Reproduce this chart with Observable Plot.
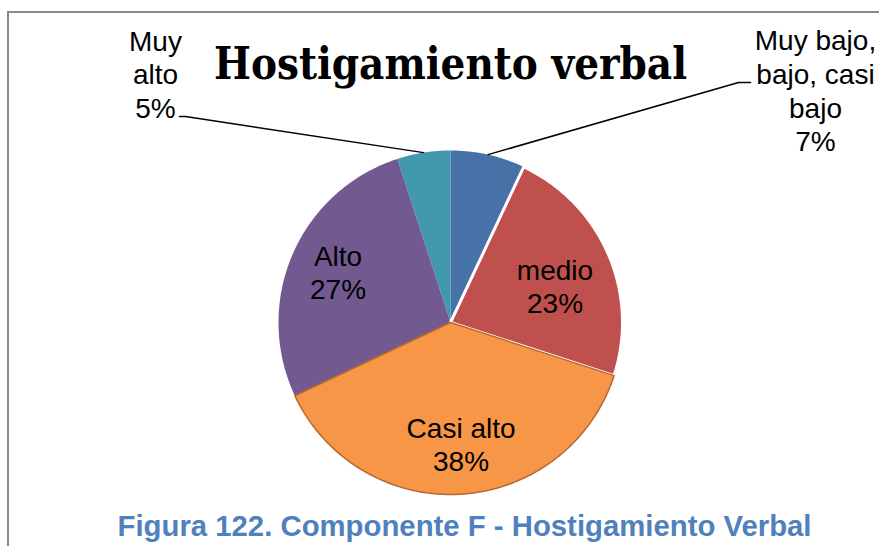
<!DOCTYPE html>
<html><head><meta charset="utf-8">
<script src="https://cdn.jsdelivr.net/npm/d3@7"></script>
<script src="https://cdn.jsdelivr.net/npm/@observablehq/plot@0.6"></script>
<style>
html,body{margin:0;padding:0;background:#fff;overflow:hidden;}
#wrap{position:relative;width:879px;height:546px;overflow:hidden;}
#border{position:absolute;left:7px;top:11px;width:1000px;height:1000px;border:2px solid #8a8a8a;box-sizing:border-box;}
#chart{position:absolute;left:0;top:0;}
</style></head><body>
<div id="wrap"><div id="border"></div><div id="chart"></div></div>
<script>
// ---- data ----
const title = "Hostigamiento verbal";
const caption = "Figura 122. Componente F - Hostigamiento Verbal";
const categories = ["Muy bajo, bajo, casi bajo", "medio", "Casi alto", "Alto", "Muy alto"];
const labelLines = ["Muy bajo,\nbajo, casi\nbajo", "medio", "Casi alto", "Alto", "Muy\nalto"];
const values = [7, 23, 38, 27, 5];
const colors = ["#4672A8", "#C0504D", "#F79646", "#725A91", "#4298AF"];

// ---- layout / style ----
const W = 879, H = 546, cx = 450, cy = 322, R = 172;
const FS = 28, LH = 1.2;
const sliceStroke = ["none", "#ffffff", "#B5692F", "none", "none"];
const sliceStrokeWidth = [0, 3, 1.5, 0, 0];
const drawOrder = [0, 4, 3, 1, 2];
// inside labels: radial factor + nudge; outside labels: anchor in px + leader elbow
const inside = {1: {k: 0.7, dx: -6, dy: 11}, 2: {k: 0.7, dx: 3, dy: 1}, 3: {k: 0.7, dx: -2, dy: -3}};
const outside = {
  0: {x: 815, y: 89.6, elbow: [738, 82], end: [750, 82]},
  4: {x: 155, y: 72.9, elbow: [185, 116], end: [179, 116]}
};

const total = d3.sum(values);
let cum = 0;
const slices = values.map((v, i) => {
  const a0 = cum / total * 2 * Math.PI;
  cum += v;
  const a1 = cum / total * 2 * Math.PI;
  return {i, cat: categories[i], v, a0, a1, mid: (a0 + a1) / 2};
});
const pt = (a, r) => [cx + r * Math.sin(a), cy - r * Math.cos(a)];

const sliceMarks = drawOrder.map(i => {
  const s = slices[i];
  const n = Math.max(2, Math.ceil((s.a1 - s.a0) / (Math.PI / 360)));
  const pts = [{x: cx, y: cy}];
  for (let j = 0; j <= n; j++) {
    const [x, y] = pt(s.a0 + (s.a1 - s.a0) * j / n, R);
    pts.push({x, y});
  }
  return Plot.line(pts, {x: "x", y: "y", curve: "linear-closed", fill: colors[i],
    stroke: sliceStroke[i], strokeWidth: sliceStrokeWidth[i], strokeLinejoin: "round"});
});

const insideLabels = Object.keys(inside).map(k => {
  const i = +k, s = slices[i], o = inside[i];
  const [x, y] = pt(s.mid, R * o.k);
  return {x: x + o.dx, y: y + o.dy, t: labelLines[i] + "\n" + s.v + "%"};
});
const outsideLabels = Object.keys(outside).map(k => {
  const i = +k, s = slices[i], o = outside[i];
  return {x: o.x, y: o.y, t: labelLines[i] + "\n" + s.v + "%"};
});
const leaders = Object.keys(outside).flatMap(k => {
  const i = +k, s = slices[i], o = outside[i];
  const [x, y] = pt(s.mid, R);
  return [{g: i, x, y}, {g: i, x: o.elbow[0], y: o.elbow[1]}, {g: i, x: o.end[0], y: o.end[1]}];
});

const chart = Plot.plot({
  width: W, height: H, margin: 0,
  x: {domain: [0, W], range: [0, W], axis: null},
  y: {domain: [0, H], range: [0, H], axis: null},
  style: {background: "transparent", overflow: "visible"},
  marks: [
    ...sliceMarks,
    Plot.line(leaders, {x: "x", y: "y", z: "g", stroke: "#000", strokeWidth: 1.5}),
    Plot.text([...insideLabels, ...outsideLabels], {x: "x", y: "y", text: "t", fontSize: FS, lineHeight: LH,
      fontFamily: "Liberation Sans, Arial, sans-serif", fill: "#000", lineAnchor: "middle"}),
    Plot.text([{x: 450, y: 78, t: title}], {x: "x", y: "y", text: "t", lineAnchor: "bottom",
      fontSize: 44, fontWeight: "bold", fontFamily: "DejaVu Serif Condensed, DejaVu Serif, serif", fill: "#000",
      className: "ttl"}),
    Plot.text([{x: 464, y: 535, t: caption}], {x: "x", y: "y", text: "t", lineAnchor: "bottom",
      fontSize: 29, fontWeight: "bold", fontFamily: "Liberation Sans, Arial, sans-serif", fill: "#4F81BD",
      className: "cap"})
  ]
});
d3.select(chart).select("g.ttl text").attr("textLength", 473).attr("lengthAdjust", "spacingAndGlyphs")
  .style("font-stretch", "condensed");
d3.select(chart).select("g.cap text").attr("textLength", 694).attr("lengthAdjust", "spacingAndGlyphs");
document.getElementById("chart").appendChild(chart);
</script>
</body></html>
